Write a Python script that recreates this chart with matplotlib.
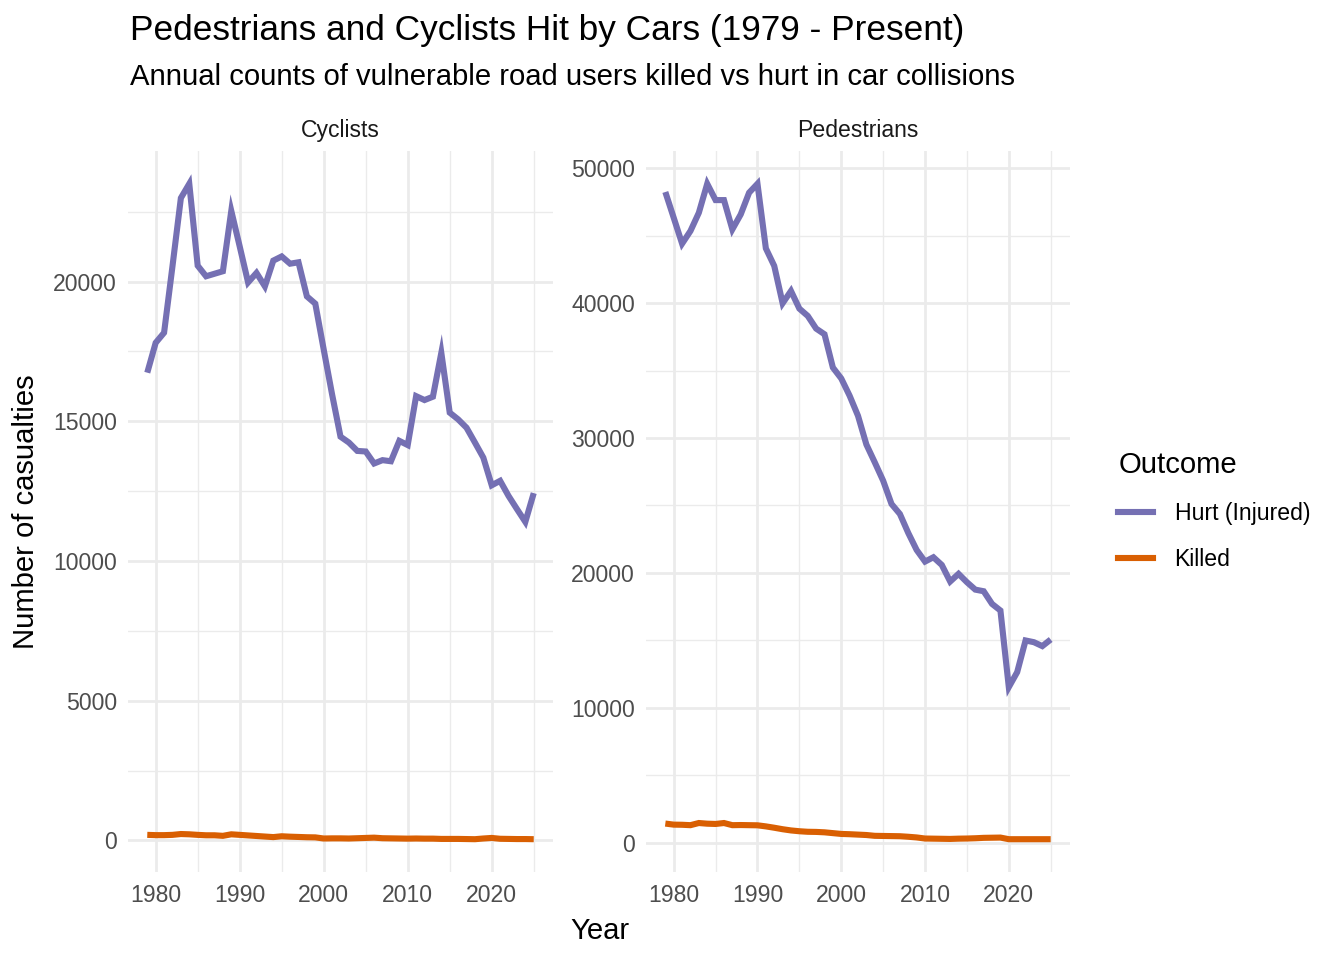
import matplotlib
matplotlib.use("Agg")
import matplotlib.pyplot as plt
from matplotlib.ticker import MultipleLocator
from matplotlib.lines import Line2D

plt.rcParams['font.family'] = ['Liberation Sans', 'DejaVu Sans']

# Data
years = list(range(1979, 2026))

cyclists_hurt = [16740, 17810, 18170, 20550, 22990, 23500, 20570, 20190, 20280, 20370,
                 22530, 21260, 19970, 20310, 19830, 20750, 20900, 20640, 20690, 19470,
                 19210, 17570, 15960, 14450, 14240, 13940, 13920, 13490, 13610, 13570,
                 14300, 14150, 15900, 15760, 15880, 17450, 15310, 15070, 14770, 14240,
                 13700, 12710, 12870, 12330, 11860, 11400, 12430]

cyclists_killed = [200, 190, 190, 200, 230, 220, 200, 185, 185, 165,
                   220, 200, 180, 160, 140, 120, 150, 135, 125, 115,
                   110, 70, 75, 75, 70, 80, 90, 100, 80, 75,
                   70, 65, 70, 65, 65, 55, 55, 55, 50, 45,
                   70, 90, 60, 55, 50, 50, 45]

pedestrians_hurt = [48250, 46340, 44420, 45360, 46710, 48860, 47650, 47650, 45480, 46590,
                    48200, 48860, 44070, 42770, 40000, 40910, 39600, 39060, 38120, 37700,
                    35230, 34420, 33140, 31650, 29520, 28200, 26840, 25110, 24370, 22960,
                    21700, 20840, 21160, 20590, 19360, 19930, 19310, 18760, 18640, 17700,
                    17210, 11530, 12640, 14990, 14860, 14570, 15060]

pedestrians_killed = [1410, 1330, 1320, 1290, 1450, 1400, 1380, 1450, 1290, 1300,
                      1290, 1280, 1200, 1100, 990, 900, 840, 800, 790, 760,
                      700, 640, 620, 590, 560, 500, 490, 480, 470, 430,
                      380, 300, 290, 280, 270, 290, 300, 320, 350, 360,
                      370, 250, 250, 250, 250, 250, 250]

panels = ["Cyclists", "Pedestrians"]
outcomes = ["Hurt (Injured)", "Killed"]
colors = {"Hurt (Injured)": "#7570B3", "Killed": "#D95F02"}
series = {
    "Cyclists": {"Hurt (Injured)": cyclists_hurt, "Killed": cyclists_killed},
    "Pedestrians": {"Hurt (Injured)": pedestrians_hurt, "Killed": pedestrians_killed},
}
y_major = {"Cyclists": 5000, "Pedestrians": 10000}

fig = plt.figure(figsize=(13.44, 9.6), dpi=100)
ax_left = fig.add_axes([0.0952, 0.0917, 0.3163, 0.7510])
ax_right = fig.add_axes([0.4807, 0.0917, 0.3154, 0.7510])

for ax, name in zip([ax_left, ax_right], panels):
    for outcome in outcomes:
        ax.plot(years, series[name][outcome], color=colors[outcome], lw=4.4,
                solid_capstyle='butt', solid_joinstyle='miter', zorder=3)
    ax.margins(x=0.05, y=0.05)
    ax.xaxis.set_major_locator(MultipleLocator(10))
    ax.xaxis.set_minor_locator(MultipleLocator(5))
    ax.yaxis.set_major_locator(MultipleLocator(y_major[name]))
    ax.yaxis.set_minor_locator(MultipleLocator(y_major[name] / 2))
    ax.grid(which='major', color='#EBEBEB', lw=2.0, zorder=0)
    ax.grid(which='minor', color='#EBEBEB', lw=1.0, zorder=0)
    ax.set_axisbelow(True)
    for s in ax.spines.values():
        s.set_visible(False)
    ax.tick_params(which='both', length=0, labelsize=16.6, labelcolor='#4D4D4D')
    ax.tick_params(axis='y', pad=8)
    ax.tick_params(axis='x', pad=9)
    ax.set_title(name, fontsize=16.6, color='#1A1A1A', pad=10)

fig.text(0.0967, 0.958, "Pedestrians and Cyclists Hit by Cars (1979 - Present)",
         fontsize=25.4, ha='left', va='baseline')
fig.text(0.0967, 0.911, "Annual counts of vulnerable road users killed vs hurt in car collisions",
         fontsize=21.1, ha='left', va='baseline')
fig.text(0.446, 0.022, "Year", fontsize=21.1, ha='center', va='baseline')
fig.text(0.0195, 0.467, "Number of casualties", fontsize=21.1, rotation=90,
         ha='center', va='center')

handles = [Line2D([0], [0], color=colors[o], lw=4.4) for o in outcomes]
leg = fig.legend(handles, outcomes, loc='upper left', bbox_to_anchor=(0.8165, 0.552),
                 frameon=False, fontsize=16.6, title="Outcome", title_fontsize=21.1,
                 handlelength=1.5, handletextpad=0.95, labelspacing=1.0)
leg._legend_box.align = "left"

fig.savefig("out.png", dpi=100)
